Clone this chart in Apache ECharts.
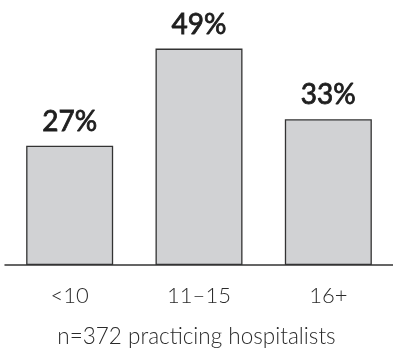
<!DOCTYPE html>
<html>
<head>
<meta charset="utf-8">
<script src="https://cdn.jsdelivr.net/npm/echarts@6/dist/echarts.min.js"></script>
<style>
  html, body { margin: 0; padding: 0; background: #fff; }
  #chart { width: 393px; height: 352px; }
</style>
</head>
<body>
<div id="chart"></div>
<script>
// years in practice groups
let categories = ['<10', '11\u201315', '16+'];
let shares = [27, 49, 33];
let note = 'n=372 practicing hospitalists';

let chart = echarts.init(document.getElementById('chart'));
chart.setOption({
  animation: false,
  title: {
    text: note,
    left: 'center',
    bottom: 4,
    padding: 0,
    textStyle: {
      fontFamily: 'Lato',
      fontWeight: 300,
      fontSize: 22.5,
      color: '#2a2a2a'
    }
  },
  grid: { left: 5, right: -4.5, top: 0, bottom: 87 },
  xAxis: {
    type: 'category',
    data: categories,
    axisLine: { lineStyle: { color: '#333', width: 1.5 } },
    axisTick: { show: false },
    axisLabel: {
      margin: 20,
      fontFamily: 'Lato',
      fontWeight: 300,
      fontSize: 22,
      color: '#2a2a2a'
    }
  },
  yAxis: {
    type: 'value',
    min: 0,
    max: 60,
    show: false
  },
  series: [{
    type: 'bar',
    data: shares,
    barWidth: 87,
    itemStyle: {
      color: '#d1d2d4',
      borderColor: '#333',
      borderWidth: 1.3
    },
    label: {
      show: true,
      position: 'top',
      distance: 10,
      formatter: function (p) {
        return p.value + '%';
      },
      fontFamily: 'Lato',
      fontWeight: 'normal',
      fontSize: 28,
      color: '#1e1e1e',
      // a thin outline gives a medium weight look
      textBorderColor: '#1e1e1e',
      textBorderWidth: 0.8
    }
  }]
});
</script>
</body>
</html>
